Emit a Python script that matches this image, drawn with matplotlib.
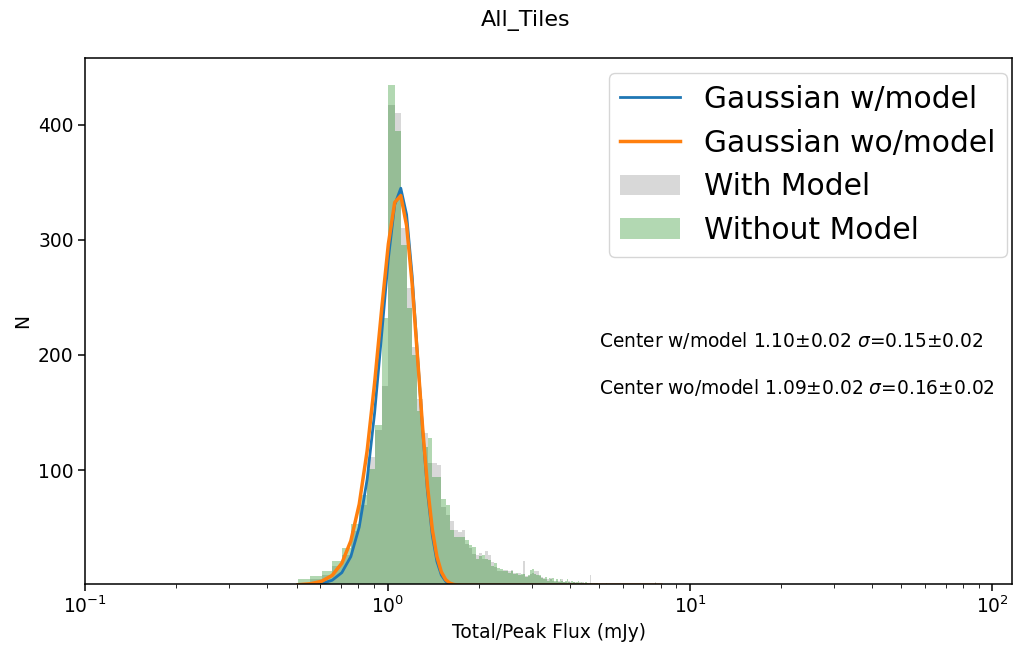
import numpy as np
import matplotlib.pyplot as plt

# histogram bins (linear width)
bin_start = 0.506
bin_width = 0.05

# counts per bin, "With Model"
counts_with = [2, 5, 9, 17, 26, 47, 70, 111, 135, 173,
               417, 410, 310, 258, 207, 162, 132, 106, 106, 104,
               68, 61, 56, 48, 46, 48, 36, 32, 27, 26,
               28, 23, 30, 26, 20, 16, 12, 12, 13,
               13, 12, 13, 11, 10, 11, 9, 21, 8, 8, 10, 11, 12, 12, 8, 7, 6, 5, 5, 4, 6, 4,
               3, 4, 4, 3, 5, 3, 3, 2, 4, 3, 2, 3, 3, 2, 2, 3, 2, 3, 1, 2, 2, 2, 9, 1, 2, 1, 2, 1, 1,
               1, 0, 1, 0, 1, 1, 0, 1, 0, 0, 1, 0, 0, 1, 0, 0, 1, 0, 0, 0,
               0, 1, 0, 0, 0, 0, 1, 0, 0, 0, 0, 0, 0, 1, 0, 0, 0, 0, 0, 0,
               0, 0, 0, 0, 0, 0, 0, 0, 0, 0, 0, 0, 0, 3, 0, 0, 0, 0, 0, 0]

# counts per bin, "Without Model"
counts_without = [5, 8, 12, 21, 32, 53, 78, 101, 139, 232,
                  434, 394, 295, 241, 200, 151, 120, 128, 94, 94,
                  75, 70, 48, 42, 42, 42, 39, 35, 33, 23,
                  25, 26, 23, 22, 17, 19, 15, 14, 12,
                  12, 11, 12, 10, 11, 9, 10, 10, 7, 9, 13, 14, 10, 9, 9, 6, 5, 7, 4, 6, 5, 6,
                  4, 5, 3, 5, 4, 3, 4, 5, 3, 2, 4, 3, 2, 3, 4, 2, 3, 2, 2, 3, 2, 1, 2, 2, 1, 2, 1, 2, 1,
                  1, 0, 1, 1, 0, 2, 1, 0, 1, 0, 1, 1, 0, 0, 1, 0, 1, 0, 0, 1,
                  0, 0, 1, 0, 0, 0, 1, 0, 0, 0, 0, 1, 0, 0, 0, 0, 0, 1, 0, 0,
                  0, 0, 0, 0, 1, 0, 0, 0, 0, 0, 0, 0, 0, 2, 0, 0, 0, 0, 0, 0]

# gaussian fit results: amplitude, center, sigma
fit_with = (345, 1.10, 0.15)
fit_without = (340, 1.09, 0.16)

label_with = 'Center w/model 1.10±0.02 $\\sigma$=0.15±0.02'
label_without = 'Center wo/model 1.09±0.02 $\\sigma$=0.16±0.02'


def gauss(x, a, mu, sig):
    return a * np.exp(-(x - mu) ** 2 / (2 * sig ** 2))


edges = bin_start + bin_width * np.arange(len(counts_with) + 1)

fs = 13.4  # base font size

fig = plt.figure(figsize=(10.13, 6.49), dpi=100)
ax = fig.add_axes([0.084, 0.100, 0.915, 0.811])

l1, = ax.plot(edges, gauss(edges, *fit_with), color='tab:blue', lw=2,
              label='Gaussian w/model')
l2, = ax.plot(edges, gauss(edges, *fit_without), color='tab:orange', lw=2.5,
              label='Gaussian wo/model')
_, _, p1 = ax.hist(edges[:-1], bins=edges, weights=counts_with, color='gray',
                   alpha=0.3, label='With Model')
_, _, p2 = ax.hist(edges[:-1], bins=edges, weights=counts_without, color='green',
                   alpha=0.3, label='Without Model')

ax.set_xscale('log')
ax.set_xlim(0.1, 116)
ax.set_ylim(1, 458)
ax.set_yticks([100, 200, 300, 400])
ax.tick_params(labelsize=fs, length=4.7, width=1.1)
ax.tick_params(which='minor', length=2.7)
for s in ax.spines.values():
    s.set_linewidth(1.1)

ax.set_xlabel('Total/Peak Flux (mJy)', fontsize=fs)
ax.set_ylabel('N', fontsize=fs)

ax.text(5.0, 207, label_with, fontsize=fs)
ax.text(5.0, 166, label_without, fontsize=fs)

ax.legend(handles=[l1, l2, p1[0], p2[0]], loc='upper right', fontsize=21.4,
          bbox_to_anchor=(0.9946, 0.9715), borderaxespad=0)

fig.suptitle('All_Tiles', x=0.519, y=0.968, va='center', fontsize=16)

fig.savefig('out.png', dpi=100)
